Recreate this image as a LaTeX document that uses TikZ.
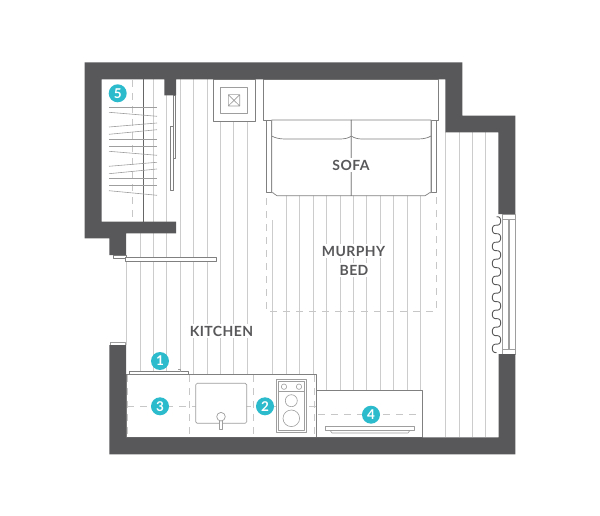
\documentclass[tikz,border=0pt]{standalone}
\usepackage{fontspec}
\setmainfont{Lato}
\definecolor{wallgray}{HTML}{58585A}
\definecolor{teal}{HTML}{2BBBCC}
\tikzset{
  floorline/.style={draw=black!20,line width=0.8pt},
  furn/.style={draw=black!50,line width=0.7pt,fill=white},
  lightfurn/.style={draw=black!38,line width=0.7pt,fill=white},
  thin/.style={draw=black!38,line width=0.6pt},
  dashline/.style={draw=black!22,line width=0.8pt,dash pattern=on 7pt off 6pt},
  badge/.style={circle,fill=teal,text=white,inner sep=0pt,minimum size=18pt,font=\fontsize{13.5}{13.5}\bfseries},
  roomlabel/.style={fill=white,inner sep=1.5pt,text=wallgray,font=\fontsize{14}{14}\selectfont\addfontfeatures{LetterSpace=3}\bfseries},
}
\begin{document}
\begin{tikzpicture}[x=1pt,y=-1pt,line join=round]
\useasboundingbox (0,0) rectangle (600,516);
% floor
\foreach \x in {153.3,166.7,...,260.1}
  \draw[floorline] (\x,79)--(\x,437);
\foreach \x in {445.7,459,472.3,485.7}
  \draw[floorline] (\x,132)--(\x,437);
\foreach \x in {286.3,299.7,...,433}
  \draw[floorline] (\x,195)--(\x,437);
\draw[floorline] (272.7,220)--(272.7,437);
\draw[floorline] (140,233)--(140,437);
\draw[floorline] (126,261)--(126,345);
% closet
\draw[dashline] (132.7,80)--(132.7,222);
\draw[draw=black!60,line width=0.7pt] (143.3,79)--(143.3,222);
\foreach \a/\b in {107/107,112.3/116.3,127/123,134.3/129.7,139.3/139.3,146.3/146.3,151.3/155.3,166.3/162.3,173.7/169,178.7/178.7,185.3/185.3,190.7/195.3}
  \draw[thin] (109,\a)--(157,\b);
\draw[furn] (173,95)rectangle(175.7,158);
\draw[furn] (170.3,126)rectangle(173,190);
% chimney
\draw[furn] (213,79)rectangle(255.7,121.7);
\draw[thin] (220.7,87.3)rectangle(247.7,113.7);
\draw[thin] (228.3,94.7)rectangle(239.7,106)--(228.3,94.7) (228.3,106)--(239.7,94.7);
% bed
\draw[dashline] (266,120)--(266,311)--(436,311)--(436,120);
% sofa
\draw[furn] (263.3,79)rectangle(438.7,120);
\draw[furn] (266,120)rectangle(271.7,192.7);
\draw[furn] (431,120)rectangle(436,192.7);
\draw[furn] (271.7,120) to[out=0,in=180] (351.3,120)--(351.3,195.7)
  --(277,195.7) to[out=180,in=20] (271.7,192.7)--cycle;
\draw[furn] (351.3,120)--(431,120)--(431,192.7) to[out=160,in=0] (425,195.7)--(351.3,195.7)--cycle;
\draw[furn] (271.7,136) .. controls (275,138) and (280,139) .. (285,139)--(340,139) .. controls (345,139) and (349,138) .. (351.3,136)
  .. controls (354,138) and (358,139) .. (362,139)--(418,139) .. controls (423,139) and (428,138) .. (431,136);
% counter
\draw[furn] (126,374)rectangle(316.7,437);
\draw[furn] (129.3,371.7)rectangle(188.3,374);
\draw[thin] (178,369)--(180,369)--(180,371.7);
\draw[dashline] (127.7,375)--(127.7,437) (189.3,375)--(189.3,437) (253.3,375)--(253.3,437) (314,375)--(314,437);
\draw[dashline] (127,406.3)--(316,406.3);
\draw[lightfurn,rounded corners=1.5pt] (195.7,383.3)rectangle(246.7,423.3);
\draw[lightfurn] (219.3,418)rectangle(222.7,429);
\draw[lightfurn] (221,416.7)circle(4.3);
% stove
\draw[lightfurn] (276,379.3)rectangle(306.7,432.7);
\draw[thin] (278,381.5)rectangle(304.5,430.5);
\draw[thin] (278,391.7)--(304.5,391.7);
\draw[thin] (284,386.7)circle(2.7);
\draw[thin] (299,386.7)circle(2.7);
\draw[thin] (291.3,400.7)circle(6);
\draw[thin] (291.3,418.3)circle(8.3);
% bench
\draw[furn] (316.7,390.3)rectangle(422.7,437);
\draw[dashline] (318,414.7)--(420,414.7);
\draw[thin] (330,430.3)--(332,433)--(408,433)--(410,430.3);
\draw[lightfurn] (325,426.3)rectangle(414.7,430.3);
% door
\draw[furn] (113,255)rectangle(126,258);
\draw[furn] (125.3,257.3)rectangle(216,261.7);
\draw[lightfurn] (110,342)rectangle(125.5,345);
% window
\draw[thin] (502.7,214)rectangle(515,354);
\draw[thin] (502.7,219.3)--(515,219.3) (502.7,349.3)--(515,349.3);
\draw[thin] (508,219.3)--(508,349.3) (509.5,219.3)--(509.5,349.3);
\draw[draw=black!65,line width=0.9pt,smooth,samples=200,variable=\t,domain=0:2880]
  plot ({496.5+4.2*sin(\t)},{216.7+\t*0.0472-1.3*sin(2*\t)});
% walls
\fill[wallgray] (84.7,62.3)--(462.3,62.3)--(462.3,115.7)--(515.3,115.7)--(515.3,214)--(498.3,214)--(498.3,132.3)
  --(445.3,132.3)--(445.3,79.3)--(176,79.3)--(176,95.3)--(164.3,95.3)--(164.3,79.3)--(101.7,79.3)--(101.7,221.7)
  --(176,221.7)--(176,233.3)--(126,233.3)--(126,255)--(109.3,255)--(109.3,238.3)--(84.7,238.3)--cycle;
\fill[wallgray] (109.3,345)--(126,345)--(126,437.3)--(498.7,437.3)--(498.7,354)--(515.3,354)--(515.3,454.3)--(109.3,454.3)--cycle;
% labels
\node[roomlabel] (sofa) at (351,165) {SOFA};
\node[roomlabel] (murphy) at (353.5,251) {MURPHY};
\node[roomlabel] (bed) at (354,270) {BED};
\node[roomlabel] (kitchen) at (221.5,331) {KITCHEN};
\node[badge] (one) at (160,361) {1};
\node[badge] (two) at (265,406.3) {2};
\node[badge] (three) at (160,406.3) {3};
\node[badge] (four) at (371,414.7) {4};
\node[badge] (five) at (117.7,93.3) {5};
\end{tikzpicture}
\end{document}
